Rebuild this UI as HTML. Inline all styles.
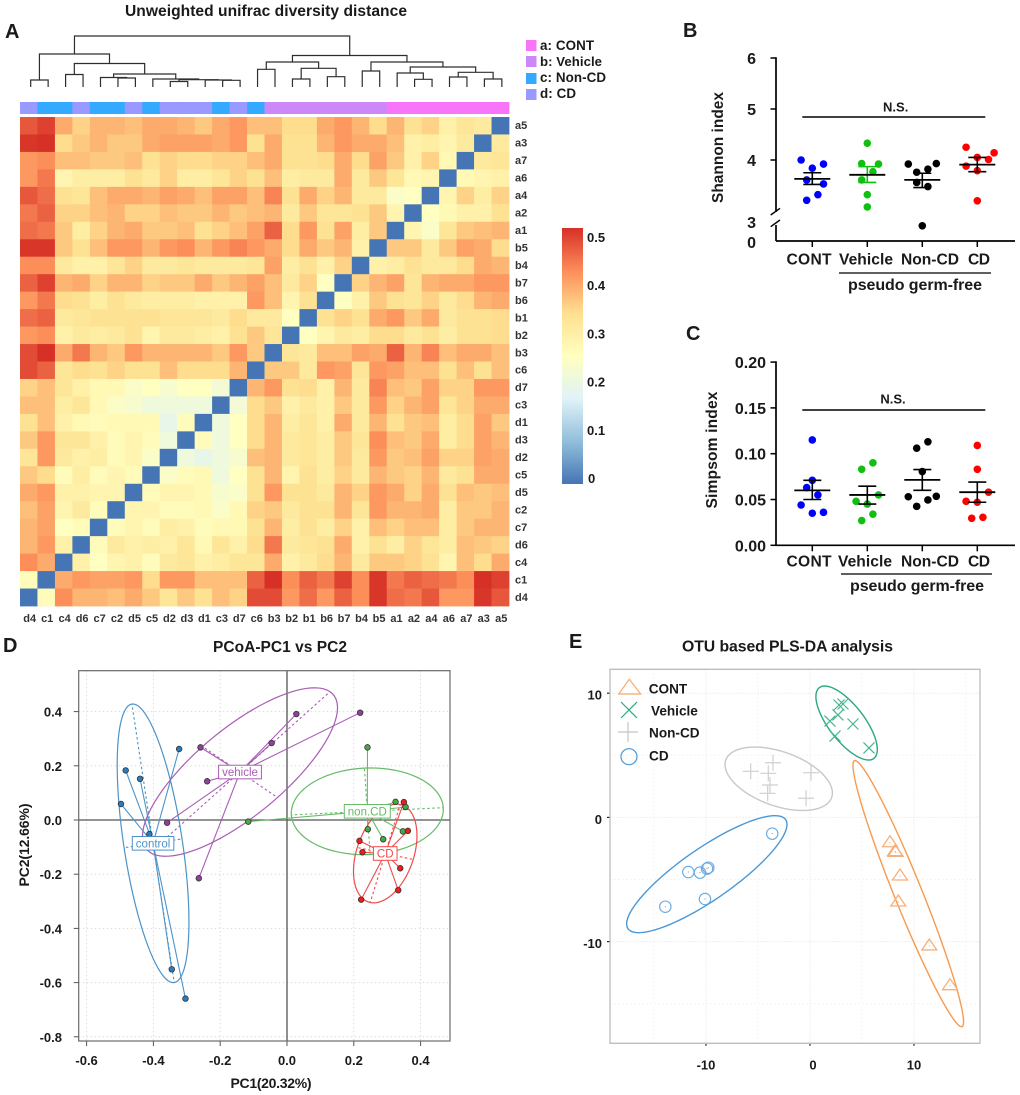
<!DOCTYPE html>
<html lang="en">
<head>
<meta charset="utf-8">
<title>Microbial diversity figure</title>
<style>
  html, body { margin: 0; padding: 0; background: #fff; }
  svg { display: block; font-family: "Liberation Sans", Arial, sans-serif; }
  text { fill: #1a1a1a; }
  .b { font-weight: bold; }
</style>
</head>
<body>
<svg id="figure" xmlns="http://www.w3.org/2000/svg" width="1020" height="1095" viewBox="0 0 1020 1095">
  <rect x="0" y="0" width="1020" height="1095" fill="#ffffff"/>
  <defs><linearGradient id="cbar" x1="0" y1="1" x2="0" y2="0"></linearGradient></defs>

  <text class="b" x="5" y="38" font-size="20">A</text>
  <text class="b" x="683" y="37" font-size="20">B</text>
  <text class="b" x="686" y="340" font-size="20">C</text>
  <text class="b" x="3" y="652" font-size="20">D</text>
  <text class="b" x="569" y="648" font-size="20">E</text>

  <text class="b" x="125" y="16" font-size="15.6" textLength="282" lengthAdjust="spacing">Unweighted unifrac diversity distance</text>

  <g>
    <rect x="526" y="40" width="10.5" height="11" fill="#f874f8"/>
    <text class="b" x="540" y="50" font-size="13.4" textLength="54">a: CONT</text>
    <rect x="526" y="56" width="10.5" height="11" fill="#cc88f8"/>
    <text class="b" x="540" y="66" font-size="13.2" textLength="62">b: Vehicle</text>
    <rect x="526" y="73" width="10.5" height="11" fill="#33aaff"/>
    <text class="b" x="540" y="82" font-size="13.4" textLength="66">c: Non-CD</text>
    <rect x="526" y="89" width="10.5" height="11" fill="#9999ff"/>
    <text class="b" x="540" y="98" font-size="13.4" textLength="36">d: CD</text>
  </g>

  <text class="b" x="0" y="0" font-size="15.4" text-anchor="middle" textLength="111" transform="translate(723 147.5) rotate(-90)">Shannon index</text>
  <text class="b" x="0" y="0" font-size="15.6" text-anchor="middle" textLength="117" transform="translate(717 450) rotate(-90)">Simpsom index</text>
  <text class="b" x="895.7" y="111.5" font-size="13" text-anchor="middle">N.S.</text>
  <text class="b" x="893" y="403.5" font-size="13" text-anchor="middle">N.S.</text>
  <text class="b" x="848" y="290" font-size="16" textLength="134">pseudo germ-free</text>
  <text class="b" x="850" y="591" font-size="16" textLength="134">pseudo germ-free</text>

  <text class="b" x="280" y="652" font-size="15.5" text-anchor="middle" textLength="134">PCoA-PC1 vs PC2</text>
  <text class="b" x="271" y="1088" font-size="14" text-anchor="middle" textLength="81">PC1(20.32%)</text>
  <text class="b" x="0" y="0" font-size="14" text-anchor="middle" textLength="83" transform="translate(29 845) rotate(-90)">PC2(12.66%)</text>

  <text class="b" x="682" y="651.5" font-size="15.8" textLength="211">OTU based PLS-DA analysis</text>

  <g id="layer-heatmap"></g>
  <g id="layer-b"></g>
  <g id="layer-c"></g>
  <g id="layer-d"></g>
  <g id="layer-e"></g>

  <g>
    <text class="b" x="648.7" y="693.5" font-size="13.6">CONT</text>
    <text class="b" x="651" y="715.5" font-size="13.6">Vehicle</text>
    <text class="b" x="649" y="737.5" font-size="13.6">Non-CD</text>
    <text class="b" x="649" y="760.5" font-size="13.6">CD</text>
    <path d="M629.3 679.3 L640.7 694 L618.7 694 Z" fill="none" stroke="#f7ab70" stroke-width="1.2"/>
    <path d="M621 702 L637 718 M637 702 L621 718" fill="none" stroke="#2aa97f" stroke-width="1.2"/>
    <path d="M618 732 L638 732 M628 722 L628 742" fill="none" stroke="#c4c4c4" stroke-width="1.2"/>
    <circle cx="629" cy="756.7" r="8" fill="none" stroke="#4a98d8" stroke-width="1.2"/>
  </g>
</svg>

<script>
/* ---------- Heatmap data (symmetric distance matrix, upper-left triangle) ---------- */
const heatRowNames = ['a5','a3','a7','a6','a4','a2','a1','b5','b4','b7','b6','b1','b2','b3','c6','d7','c3','d1','d3','d2','c5','d5','c2','c7','d6','c4','c1','d4'];
const heatColNames = ['d4','c1','c4','d6','c7','c2','d5','c5','d2','d3','d1','c3','d7','c6','b3','b2','b1','b6','b7','b4','b5','a1','a2','a4','a6','a7','a3','a5'];
const heatValues = [
  [.47,.49,.39,.35,.38,.38,.37,.39,.39,.38,.36,.39,.41,.37,.37,.34,.34,.39,.41,.38,.34,.38,.33,.35,.29,.32,.31],
  [.50,.51,.34,.36,.38,.36,.36,.39,.40,.40,.40,.39,.41,.33,.39,.33,.33,.38,.41,.39,.39,.37,.29,.30,.28,.31],
  [.41,.42,.37,.37,.36,.36,.37,.33,.35,.34,.34,.35,.35,.37,.39,.33,.33,.34,.39,.34,.40,.36,.29,.35,.27],
  [.41,.44,.28,.30,.30,.30,.33,.31,.35,.30,.30,.32,.35,.33,.37,.30,.31,.31,.39,.31,.36,.32,.27,.28],
  [.47,.45,.33,.32,.37,.39,.39,.38,.40,.39,.37,.40,.40,.37,.43,.33,.39,.35,.38,.31,.31,.24,.25],
  [.44,.46,.35,.35,.37,.38,.35,.35,.37,.36,.36,.38,.36,.37,.38,.31,.36,.32,.32,.33,.36,.28],
  [.45,.44,.36,.30,.35,.38,.39,.36,.36,.37,.33,.35,.37,.40,.46,.34,.41,.33,.40,.30,.36],
  [.50,.50,.36,.33,.37,.41,.41,.38,.41,.42,.38,.41,.43,.41,.39,.34,.39,.36,.38,.29],
  [.42,.42,.31,.29,.29,.32,.35,.31,.31,.32,.31,.31,.31,.32,.40,.30,.33,.29,.35],
  [.46,.49,.38,.39,.35,.38,.38,.35,.36,.36,.39,.36,.38,.40,.37,.31,.35,.25],
  [.41,.44,.34,.33,.30,.33,.31,.30,.30,.30,.29,.29,.29,.41,.37,.28,.33],
  [.45,.46,.31,.32,.33,.33,.33,.33,.32,.32,.32,.31,.34,.31,.31,.25],
  [.41,.42,.29,.31,.30,.31,.33,.28,.31,.31,.30,.29,.33,.36,.32],
  [.48,.51,.39,.44,.38,.36,.41,.38,.38,.38,.38,.36,.41,.36],
  [.48,.46,.32,.34,.33,.35,.33,.33,.37,.34,.34,.34,.38],
  [.35,.37,.32,.29,.27,.27,.24,.25,.23,.25,.25,.22],
  [.37,.37,.30,.32,.27,.24,.23,.21,.21,.21,.21],
  [.33,.37,.29,.27,.26,.27,.27,.27,.19,.26],
  [.36,.41,.32,.32,.29,.26,.28,.26,.21],
  [.32,.41,.31,.29,.30,.26,.28,.24],
  [.36,.34,.26,.30,.26,.28,.26],
  [.39,.41,.29,.29,.28,.28],
  [.37,.40,.28,.31,.26],
  [.38,.40,.25,.26],
  [.38,.41,.29],
  [.42,.39],
  [.26],
  []
];
const colorbarTicks = [0, 0.1, 0.2, 0.3, 0.4, 0.5];
const colorRamp = ['#4575b4','#91bfdb','#e0f3f8','#ffffbf','#fee090','#fc8d59','#d73027'];
/* dendrogram: [merge height, left child, right child]; numeric leaves index the columns */
const dendrogram = [51,
  [33, [7,0,1],
       [23.5, [12.5,2,3],
              [13, [9.5,4,[9,5,6]],
                   [8, 7, [7.3,[5.5,8,9],[7,10,[6.7,11,12]]]]]]],
  [31.5, [25, [17.7,13,14], [18.7,[8,15,16],[10.3,17,18]]],
         [25, [16,19,20],
              [20, [14,21,[7.7,22,23]],
                   [14.7,[10,24,25],[8,26,27]]]]]
];

/* ---------- Shannon data ---------- */
const groupNames = ['CONT','Vehicle','Non-CD','CD'];
const shannonCont = [4.0,3.92,3.84,3.61,3.53,3.32,3.21];
const shannonVehicle = [4.33,3.93,3.92,3.77,3.61,3.32,3.08];
const shannonNonCd = [3.92,3.93,3.82,3.76,3.56,3.48,2.71];
const shannonCd = [4.25,4.14,4.05,4.01,3.88,3.79,3.2];
const shannonSlots = [[-2,2,0,-1,2,1,-1],[0,-1,2,1,-1,0,0],[-2.5,2.5,1,-1,-1,1,0],[-2,3,0,2,-2,0,0]];
const shannonMean = [3.63,3.71,3.61,3.91];
const shannonHigh = [3.75,3.87,3.74,4.05];
const shannonLow = [3.52,3.56,3.46,3.77];
const shannonTicks = [4,5,6];

/* ---------- Simpson data ---------- */
const simpsonCont = [.115,.071,.063,.055,.044,.035,.036];
const simpsonVehicle = [.090,.083,.055,.048,.045,.034,.027];
const simpsonNonCd = [.113,.106,.0805,.053,.0535,.0495,.0425];
const simpsonCd = [.109,.083,.058,.048,.047,.0295,.0306];
const simpsonSlots = [[0,0,-1,1,-2,0,2],[1,-1,2,-2,0,1,-1],[1,-1,0,-2.5,2.5,1,-1],[0,0,2,-2,0,-1,1]];
const simpsonMean = [.060,.055,.0714,.058];
const simpsonHigh = [.071,.0645,.0827,.069];
const simpsonLow = [.050,.045,.060,.047];
const simpsonTicks = [0,.05,.10,.15,.20];
const simpsonTickLabels = ['0.00','0.05','0.10','0.15','0.20'];

/* ---------- PCoA data ---------- */
const pcoaXTicks = [-0.6,-0.4,-0.2,0,0.2,0.4];
const pcoaYTicks = [-0.8,-0.6,-0.4,-0.2,0,0.2,0.4];
const pcoaXLabels = ['-0.6','-0.4','-0.2','0.0','0.2','0.4'];
const pcoaYLabels = ['-0.8','-0.6','-0.4','-0.2','0.0','0.2','0.4'];
const pcoaControl = [[-.323,.262],[-.44,.152],[-.483,.183],[-.497,.059],[-.412,-.052],[-.345,-.551],[-.304,-.659]];
const pcoaVehicle = [[-.259,.268],[-.239,.143],[-.359,-.010],[-.264,-.215],[.028,.391],[-.046,.284],[.219,.396]];
const pcoaNonCd = [[.241,.268],[.325,.067],[.355,.048],[.347,-.042],[.288,-.071],[.242,-.034],[-.116,-.006]];
const pcoaCd = [[.350,.066],[.362,-.040],[.217,-.077],[.226,-.119],[.339,-.178],[.333,-.259],[.222,-.294]];
/* ellipse: centre, major half-axis vector, minor half-axis vector, all in data units */
const pcoaControlEllipse = [[-.401,-.086],[.0633,-.514],[.0868,.0162]];
const pcoaVehicleEllipse = [[-.1407,.177],[.2695,.2963],[.1123,-.0941]];
const pcoaNonCdEllipse = [[.2404,.0321],[.2275,.0133],[.0085,-.1594]];
const pcoaCdEllipse = [[.2941,-.1236],[.0449,.1808],[.0838,-.0221]];

/* ---------- PLS-DA data ---------- */
const plsXTicks = [-10,0,10];
const plsYTicks = [-10,0,10];
const plsMinorX = [-15,-5,5,15];
const plsMinorY = [-15,-5,5];
const plsCont = [[7.69,-2.04],[8.17,-2.76],[8.24,-2.81],[8.65,-4.72],[8.49,-6.81],[11.47,-10.35],[13.46,-13.55]];
const plsVehicle = [[2.79,9.05],[3.17,9.13],[2.69,8.25],[4.13,7.52],[1.92,7.76],[2.41,6.55],[5.67,5.59]];
const plsNonCd = [[-5.7,3.71],[-3.56,4.4],[-4.01,3.55],[-3.85,2.61],[-4.07,1.94],[.1,3.6],[-.38,1.54]];
const plsCd = [[-3.63,-1.31],[-11.7,-4.4],[-10.58,-4.45],[-9.78,-4.05],[-9.9,-4.13],[-10.1,-6.57],[-13.91,-7.19]];
const plsContEllipse = [[9.45,-6.14],[5.17,-10.71],[1.24,.419]];
const plsVehicleEllipse = [[3.52,7.60],[2.62,-2.85],[1.36,.87]];
const plsNonCdEllipse = [[-3.01,3.11],[5.09,-1.51],[-.87,-2.06]];
const plsCdEllipse = [[-9.92,-4.57],[7.58,4.39],[1.41,-1.71]];

/* ---------- Helpers ---------- */
const NS = 'http://www.w3.org/2000/svg';
function make(parent, tag, name, props) {
  const el = document.createElementNS(NS, tag);
  for (const k in props) { el.setAttribute(k, props[k]); }
  
  
  parent.appendChild(el);
  return el;
}
function line(parent, name, x1, y1, x2, y2, stroke, width, dash) {
  const p = { x1: x1, y1: y1, x2: x2, y2: y2, stroke: stroke, 'stroke-width': width };
  if (dash) { p['stroke-dasharray'] = dash; }
  return make(parent, 'line', name, p);
}
function label(parent, name, str, x, y, size, anchor, bold, fill) {
  const p = { x: x, y: y, 'font-size': size, 'text-anchor': anchor || 'start' };
  if (bold !== false) { p['font-weight'] = 'bold'; }
  if (fill) { p.style = 'fill:' + fill; }
  const el = make(parent, 'text', name, p);
  el.textContent = str;
  return el;
}
function hexToRgb(h) { return [1,3,5].map(i => parseInt(h.substr(i,2),16)); }
const heatMax = 0.505;
function heatColor(v) {
  const t = Math.max(0, Math.min(1, v / heatMax)) * (colorRamp.length - 1);
  const i = Math.min(colorRamp.length - 2, Math.floor(t));
  const a = hexToRgb(colorRamp[i]), b = hexToRgb(colorRamp[i + 1]), f = t - i;
  return 'rgb(' + a.map((c, n) => Math.round(c + (b[n] - c) * f)).join(',') + ')';
}
const groupColor = { a: '#f874f8', b: '#cc88f8', c: '#33aaff', d: '#9999ff' };

/* ---------- Panel A ---------- */
(function drawHeatmap() {
  const g = document.getElementById('layer-heatmap');
  const n = heatRowNames.length;
  const left = 20, top = 117, cell = 489 / n;
  const hx = k => left + cell * k;
  const hy = k => top + cell * k;
  const valueAt = (i, j) => {
    if (j === n - 1 - i) return 0;
    if (j < n - 1 - i) return heatValues[i][j];
    return heatValues[n - 1 - j][n - 1 - i];
  };
  for (let i = 0; i < n; i++) {
    for (let j = 0; j < n; j++) {
      make(g, 'rect', 'heat-cell-' + heatRowNames[i] + '-' + heatColNames[j], {
        x: hx(j).toFixed(2), y: hy(i).toFixed(2), width: (cell + .4).toFixed(2), height: (cell + .4).toFixed(2),
        fill: heatColor(valueAt(i, j))
      });
    }
    label(g, 'row-label-' + heatRowNames[i], heatRowNames[i], 515, hy(i) + cell / 2 + 3.5, 11, 'start', true, '#333');
  }
  for (let j = 0; j < n; j++) {
    make(g, 'rect', 'annotation-' + heatColNames[j], {
      x: hx(j).toFixed(2), y: 102, width: (cell + .4).toFixed(2), height: 12, fill: groupColor[heatColNames[j][0]]
    });
    label(g, 'column-label-' + heatColNames[j], heatColNames[j], hx(j) + cell / 2 + 1, 622, 11, 'middle', true, '#333');
  }
  /* dendrogram */
  const leafX = k => 30.7 + 17.45 * k;
  const dy = h => 87 - h;
  const drawNode = node => {
    if (typeof node === 'number') return { x: leafX(node), y: dy(0) };
    const l = drawNode(node[1]), r = drawNode(node[2]);
    const y = dy(node[0]);
    const d = 'M' + l.x + ' ' + l.y + ' L' + l.x + ' ' + y + ' L' + r.x + ' ' + y + ' L' + r.x + ' ' + r.y;
    make(g, 'path', 'dendrogram-branch', { d: d, fill: 'none', stroke: '#2e2e2e', 'stroke-width': 1.2 });
    return { x: (l.x + r.x) / 2, y: y };
  };
  drawNode(dendrogram);
  /* colour bar */
  const grad = document.getElementById('cbar');
  colorRamp.forEach((c, i) => {
    make(grad, 'stop', 'colorbar-stop', { offset: i / (colorRamp.length - 1), 'stop-color': c });
  });
  make(g, 'rect', 'colorbar', { x: 562, y: 228, width: 21, height: 256, fill: 'url(#cbar)' });
  const barY = v => 478 - v * 482;
  colorbarTicks.forEach(v => {
    label(g, 'colorbar-tick-' + v, String(v), v === 0 ? 588 : 587, barY(v) + 5, 13, 'start', true);
  });
})();

/* ---------- Panels B and C ---------- */
const groupCenters = [812.3, 867.3, 922.3, 977.3];
const dotColors = ['#0000ff', '#10c010', '#000000', '#ff0000'];
function drawDots(g, prefix, seriesList, slots, y, mean, high, low, errColors) {
  seriesList.forEach((series, s) => {
    const cx = groupCenters[s];
    series.forEach((v, i) => {
      make(g, 'circle', prefix + '-point-' + groupNames[s].toLowerCase(), {
        cx: cx + slots[s][i] * 5.6, cy: y(v).toFixed(2), r: 3.8, fill: dotColors[s]
      });
    });
    const col = errColors[s];
    line(g, prefix + '-sem-stem', cx, y(high[s]), cx, y(low[s]), col, 1.6);
    line(g, prefix + '-sem-cap-high', cx - 9, y(high[s]), cx + 9, y(high[s]), col, 1.6);
    line(g, prefix + '-sem-cap-low', cx - 9, y(low[s]), cx + 9, y(low[s]), col, 1.6);
    line(g, prefix + '-mean-line', cx - 18, y(mean[s]), cx + 18, y(mean[s]), '#000', 1.8);
  });
}
function drawCategoryAxis(g, prefix, baseY, labelY, labelWidths, labelCenters, bracketY, x1, x2) {
  line(g, prefix + '-x-axis', 776, baseY, 1015, baseY, '#000', 1.7);
  groupCenters.forEach((x, i) => {
    line(g, prefix + '-x-tick', x, baseY, x, baseY + 6, '#000', 1.5);
    const t = label(g, prefix + '-x-label-' + groupNames[i].toLowerCase(), groupNames[i], labelCenters[i], labelY, 15.6, 'middle');
    t.setAttribute('textLength', labelWidths[i]);
  });
  line(g, prefix + '-group-bracket', x1, bracketY, x2, bracketY, '#000', 1.3);
}
(function drawShannon() {
  const g = document.getElementById('layer-b');
  const y = v => 160 - (v - 4) * 51;
  line(g, 'shannon-y-axis-upper', 776, y(6) - .8, 776, 212, '#000', 1.7);
  line(g, 'shannon-y-axis-lower', 776, 225, 776, 241, '#000', 1.7);
  line(g, 'shannon-axis-break-upper', 770.7, 215, 780, 208.3, '#000', 1.4);
  line(g, 'shannon-axis-break-lower', 770.7, 226.7, 780, 220, '#000', 1.4);
  shannonTicks.forEach(v => {
    line(g, 'shannon-y-tick', 770.5, y(v), 776, y(v), '#000', 1.5);
    label(g, 'shannon-y-label-' + v, String(v), 756, y(v) + 6, 16, 'end');
  });
  label(g, 'shannon-y-label-3', '3', 756, 228, 16, 'end');
  label(g, 'shannon-y-label-0', '0', 756, 248, 16, 'end');
  line(g, 'shannon-significance-line', 802.3, 117, 985.3, 117, '#000', 1.4);
  drawDots(g, 'shannon', [shannonCont, shannonVehicle, shannonNonCd, shannonCd], shannonSlots, y,
    shannonMean, shannonHigh, shannonLow, ['#000', '#10c010', '#000', '#000']);
  drawCategoryAxis(g, 'shannon', 241, 264.5, [45, 54, 58, 22], [809, 866, 930, 979], 273, 839, 991);
})();
(function drawSimpson() {
  const g = document.getElementById('layer-c');
  const y = v => 545.3 - v * 916;
  line(g, 'simpson-y-axis', 776, y(.2) - .8, 776, y(0), '#000', 1.7);
  simpsonTicks.forEach((v, i) => {
    line(g, 'simpson-y-tick', 770.5, y(v), 776, y(v), '#000', 1.5);
    label(g, 'simpson-y-label-' + simpsonTickLabels[i], simpsonTickLabels[i], 766, y(v) + 6, 16, 'end');
  });
  line(g, 'simpson-significance-line', 802.3, 410, 985.3, 410, '#000', 1.4);
  drawDots(g, 'simpson', [simpsonCont, simpsonVehicle, simpsonNonCd, simpsonCd], simpsonSlots, y,
    simpsonMean, simpsonHigh, simpsonLow, ['#000', '#000', '#000', '#000']);
  drawCategoryAxis(g, 'simpson', 545.3, 566.5, [45, 54, 58, 22], [809, 865, 930, 979], 574, 841, 992);
})();

/* ---------- Shared ellipse path ---------- */
function ellipsePath(e, sx, sy) {
  const c = e[0], u = e[1], w = e[2];
  let d = '';
  for (let i = 0; i <= 90; i++) {
    const t = i / 90 * 2 * Math.PI;
    const px = sx(c[0] + u[0] * Math.cos(t) + w[0] * Math.sin(t));
    const py = sy(c[1] + u[1] * Math.cos(t) + w[1] * Math.sin(t));
    d += (i ? ' L' : 'M') + px.toFixed(2) + ' ' + py.toFixed(2);
  }
  return d + ' Z';
}

/* ---------- Panel D ---------- */
(function drawPcoa() {
  const g = document.getElementById('layer-d');
  const sx = v => 287 + v * 334;
  const sy = v => 820 - v * 271;
  const L = 78.7, R = 450, T = 670.7, B = 1041;
  pcoaXTicks.forEach((v, i) => {
    line(g, 'pcoa-x-grid', sx(v), T, sx(v), B, '#dcdcdc', 1, '1.5 2.5');
    line(g, 'pcoa-x-tick', sx(v), B, sx(v), B + 5, '#555', 1);
    label(g, 'pcoa-x-label-' + pcoaXLabels[i], pcoaXLabels[i], sx(v), 1065, 13, 'middle');
  });
  pcoaYTicks.forEach((v, i) => {
    line(g, 'pcoa-y-grid', L, sy(v), R, sy(v), '#dcdcdc', 1, '1.5 2.5');
    line(g, 'pcoa-y-tick', L - 5, sy(v), L, sy(v), '#555', 1);
    label(g, 'pcoa-y-label-' + pcoaYLabels[i], pcoaYLabels[i], 62, sy(v) + 5, 13, 'end');
  });
  line(g, 'pcoa-zero-vertical', sx(0), T, sx(0), B, '#555', 1.3);
  line(g, 'pcoa-zero-horizontal', L, sy(0), R, sy(0), '#555', 1.3);
  make(g, 'rect', 'pcoa-frame', { x: L, y: T, width: R - L, height: B - T, fill: 'none', stroke: '#6a6a6a', 'stroke-width': 1.2 });
  const groups = [
    { id: 'control', pts: pcoaControl, e: pcoaControlEllipse, col: '#4c93c9', fill: '#2a7cc0' },
    { id: 'vehicle', pts: pcoaVehicle, e: pcoaVehicleEllipse, col: '#a95cb5', fill: '#91409d' },
    { id: 'non.CD', pts: pcoaNonCd, e: pcoaNonCdEllipse, col: '#66bb66', fill: '#3fae3f' },
    { id: 'CD', pts: pcoaCd, e: pcoaCdEllipse, col: '#f04a4a', fill: '#ee1c1c' }
  ];
  groups.forEach(G => {
    const c = G.e[0], u = G.e[1], w = G.e[2];
    make(g, 'path', 'pcoa-ellipse-' + G.id, { d: ellipsePath(G.e, sx, sy), fill: 'none', stroke: G.col, 'stroke-width': 1.2 });
    [[u, 1], [u, -1], [w, 1], [w, -1]].forEach(a => {
      line(g, 'pcoa-axis-dash-' + G.id, sx(c[0]), sy(c[1]), sx(c[0] + a[0][0] * a[1]), sy(c[1] + a[0][1] * a[1]), G.col, 1.1, '2.5 2.5');
    });
    G.pts.forEach(p => {
      line(g, 'pcoa-spider-' + G.id, sx(c[0]), sy(c[1]), sx(p[0]), sy(p[1]), G.col, 1.1);
    });
  });
  groups.forEach(G => {
    G.pts.forEach(p => {
      make(g, 'circle', 'pcoa-point-' + G.id, { cx: sx(p[0]).toFixed(2), cy: sy(p[1]).toFixed(2), r: 2.8, fill: G.fill, stroke: '#333', 'stroke-width': .8 });
    });
  });
  groups.forEach(G => {
    const c = G.e[0];
    const box = make(g, 'rect', 'pcoa-label-box-' + G.id, { fill: '#fff', stroke: G.col, 'stroke-width': 1 });
    const t = label(g, 'pcoa-label-' + G.id, G.id, sx(c[0]), sy(c[1]) + 4, 11.5, 'middle', false, G.col);
    const w = t.getComputedTextLength();
    box.setAttribute('x', sx(c[0]) - w / 2 - 3.5);
    box.setAttribute('y', sy(c[1]) - 6.8);
    box.setAttribute('width', w + 7);
    box.setAttribute('height', 13.6);
  });
})();

/* ---------- Panel E ---------- */
(function drawPls() {
  const g = document.getElementById('layer-e');
  const sx = v => 810 + v * 10.4;
  const sy = v => 817.4 - v * 12.42;
  const L = 610, R = 980, T = 669.3, B = 1043.3;
  plsMinorX.forEach(v => { line(g, 'plsda-minor-x-grid', sx(v), T, sx(v), B, '#f4f4f4', 1, '2 2'); });
  plsMinorY.forEach(v => { line(g, 'plsda-minor-y-grid', L, sy(v), R, sy(v), '#f4f4f4', 1, '2 2'); });
  plsXTicks.forEach(v => {
    line(g, 'plsda-x-grid', sx(v), T, sx(v), B, '#efefef', 1, '2 1');
    line(g, 'plsda-x-tick', sx(v), B, sx(v), B + 2.5, '#222', 1.2);
    label(g, 'plsda-x-label-' + v, String(v), sx(v) + (v === 0 ? 3 : 0), 1069.5, 13, 'middle');
  });
  plsYTicks.forEach(v => {
    line(g, 'plsda-y-grid', L, sy(v), R, sy(v), '#efefef', 1, '2 1');
    line(g, 'plsda-y-tick', L - 3, sy(v), L, sy(v), '#222', 1.2);
    label(g, 'plsda-y-label-' + v, String(v), 602, sy(v) + 6.5, 13, 'end');
  });
  make(g, 'path', 'plsda-frame', { d: 'M' + L + ' ' + T + ' H' + R + ' V' + B + ' H' + L + ' Z', fill: 'none', stroke: '#bdbdbd', 'stroke-width': 1.3 });

  const groups = [
    { id: 'cont', e: plsContEllipse, col: '#f79a4d' },
    { id: 'vehicle', e: plsVehicleEllipse, col: '#2aa97f' },
    { id: 'non-cd', e: plsNonCdEllipse, col: '#c8c8c8' },
    { id: 'cd', e: plsCdEllipse, col: '#4a98d8' }
  ];
  groups.forEach(G => {
    make(g, 'path', 'plsda-ellipse-' + G.id, { d: ellipsePath(G.e, sx, sy), fill: 'none', stroke: G.col, 'stroke-width': 1.4 });
  });
  plsCont.forEach(p => {
    const x = sx(p[0]), y = sy(p[1]);
    make(g, 'path', 'plsda-point-cont', { d: 'M' + x + ' ' + (y - 7) + ' L' + (x + 7.5) + ' ' + (y + 4) + ' L' + (x - 7.5) + ' ' + (y + 4) + ' Z', fill: 'none', stroke: '#f7b07a', 'stroke-width': 1.3 });
    make(g, 'circle', 'plsda-point-centre', { cx: x, cy: y, r: .5, fill: '#f07a20' });
  });
  plsVehicle.forEach(p => {
    const x = sx(p[0]), y = sy(p[1]);
    make(g, 'path', 'plsda-point-vehicle', { d: 'M' + (x - 5.5) + ' ' + (y - 5.5) + ' L' + (x + 5.5) + ' ' + (y + 5.5) + ' M' + (x + 5.5) + ' ' + (y - 5.5) + ' L' + (x - 5.5) + ' ' + (y + 5.5), fill: 'none', stroke: '#45b590', 'stroke-width': 1.2 });
  });
  plsNonCd.forEach(p => {
    const x = sx(p[0]), y = sy(p[1]);
    make(g, 'path', 'plsda-point-non-cd', { d: 'M' + (x - 8) + ' ' + y + ' L' + (x + 8) + ' ' + y + ' M' + x + ' ' + (y - 8) + ' L' + x + ' ' + (y + 8), fill: 'none', stroke: '#cfcfcf', 'stroke-width': 1.2 });
  });
  plsCd.forEach(p => {
    const x = sx(p[0]), y = sy(p[1]);
    make(g, 'circle', 'plsda-point-cd', { cx: x, cy: y, r: 5.7, fill: 'none', stroke: '#68a9df', 'stroke-width': 1.1 });
    make(g, 'circle', 'plsda-point-centre', { cx: x, cy: y, r: .5, fill: '#2a78c0' });
  });
})();
</script>
</body>
</html>
